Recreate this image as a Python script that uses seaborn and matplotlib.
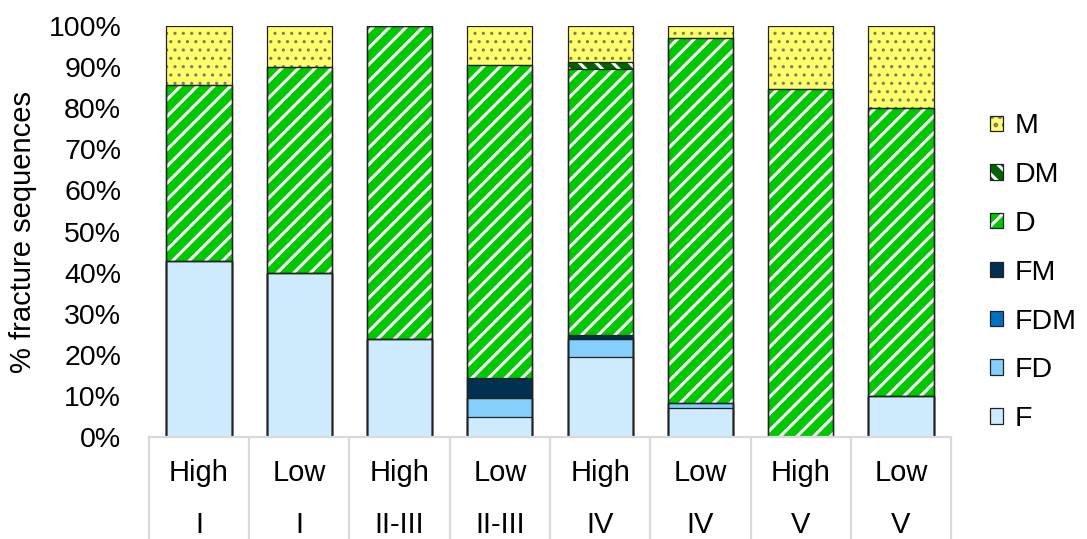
import numpy as np
import matplotlib
matplotlib.use("Agg")
import matplotlib.pyplot as plt
from matplotlib.patches import Patch
from matplotlib.legend_handler import HandlerTuple
import seaborn as sns

# Fracture-sequence composition per group (percent of sequences)
levels = ["High", "Low", "High", "Low", "High", "Low", "High", "Low"]
classes = ["I", "I", "II-III", "II-III", "IV", "IV", "V", "V"]

F = [42.9, 40.0, 23.8, 4.8, 19.5, 7.1, 0.0, 10.0]
FD = [0.0, 0.0, 0.0, 4.8, 4.3, 1.1, 0.0, 0.0]
FDM = [0.0, 0.0, 0.0, 0.0, 0.0, 0.0, 0.0, 0.0]
FM = [0.0, 0.0, 0.0, 4.8, 0.9, 0.0, 0.0, 0.0]
D = [42.8, 50.0, 76.2, 76.1, 64.8, 88.8, 84.6, 70.0]
DM = [0.0, 0.0, 0.0, 0.0, 1.7, 0.0, 0.0, 0.0]
M = [14.3, 10.0, 0.0, 9.5, 8.8, 3.0, 15.4, 20.0]

series_names = ["F", "FD", "FDM", "FM", "D", "DM", "M"]
series_values = [F, FD, FDM, FM, D, DM, M]

# (face colour, hatch colour, hatch pattern, hatch line width)
styles = {
    "F": ("#cdebfd", None, None, 1.0),
    "FD": ("#85cffd", None, None, 1.0),
    "FDM": ("#0070c0", None, None, 1.0),
    "FM": ("#003151", None, None, 1.0),
    "D": ("#00c800", "white", "//", 2.2),
    "DM": ("#006400", "white", "\\\\", 2.2),
    "M": ("#ffff66", "#7a7a7a", "..", 1.1),
}

sns.set_style("white")
plt.rcParams["font.family"] = ["Liberation Sans", "DejaVu Sans"]
plt.rcParams["text.color"] = "black"
plt.rcParams["axes.labelcolor"] = "black"
plt.rcParams["xtick.color"] = "black"
plt.rcParams["ytick.color"] = "black"
plt.rcParams["hatch.linewidth"] = 2.2

FS = 20.5
fig = plt.figure(figsize=(10.87, 5.39), dpi=100)
ax = fig.add_axes([0.137, 0.1892, 0.738, 0.7626])

cats = [f"{a}\n{b}" for a, b in zip(levels, classes)]
cum = np.cumsum(np.array(series_values), axis=0)
bar_w = 0.65


def set_hatch_lw(patches, lw):
    for p in patches:
        if hasattr(p, "set_hatch_linewidth"):
            p.set_hatch_linewidth(lw)


# Fill pass: cumulative stacks drawn from the top layer downwards
for name, top in reversed(list(zip(series_names, cum))):
    face, hcol, hatch, hlw = styles[name]
    kw = dict(edgecolor=hcol if hcol else face, linewidth=0)
    if hatch:
        kw["hatch"] = hatch
    n_before = len(ax.patches)
    with plt.rc_context({"hatch.linewidth": hlw}):
        sns.barplot(x=cats, y=top, order=cats, color=face, saturation=1,
                    width=bar_w, errorbar=None, ax=ax, **kw)
    set_hatch_lw(ax.patches[n_before:], hlw)

# Outline pass for every segment boundary
for top in cum:
    sns.barplot(x=cats, y=top, order=cats, color="#222222", fill=False,
                saturation=1, width=bar_w, errorbar=None, linewidth=0.9, ax=ax)

ax.set_xlim(-0.5, len(cats) - 0.5)
ax.set_ylim(0, 100)
ax.set_yticks(np.arange(0, 101, 10))
ax.set_yticklabels([f"{v}%" for v in range(0, 101, 10)], fontsize=FS)
ax.set_xticks(range(len(cats)))
ax.set_xticklabels(cats, fontsize=21, linespacing=2.1)
ax.tick_params(axis="both", length=0)
ax.tick_params(axis="y", pad=20)
ax.tick_params(axis="x", pad=16)
ax.set_xlabel("")
ax.set_ylabel("% fracture sequences", fontsize=21, labelpad=8)

for s in ["top", "right", "left"]:
    ax.spines[s].set_visible(False)
ax.spines["bottom"].set_color("#d9d9d9")
ax.spines["bottom"].set_linewidth(1.6)

# Category separators below the axis
ax.vlines(np.arange(-0.5, len(cats), 1), 0, -0.26,
          transform=ax.get_xaxis_transform(), colors="#d9d9d9",
          linewidth=1.6, clip_on=False)

# Legend (top layer first)
handles = []
for name in reversed(series_names):
    face, hcol, hatch, hlw = styles[name]
    with plt.rc_context({"hatch.linewidth": hlw}):
        fillp = Patch(facecolor=face, edgecolor=hcol if hcol else face,
                      linewidth=0, hatch=hatch)
    if hasattr(fillp, "set_hatch_linewidth"):
        fillp.set_hatch_linewidth(hlw)
    edgep = Patch(facecolor="none", edgecolor="#222222", linewidth=0.9)
    handles.append((fillp, edgep))
leg = fig.legend(handles, list(reversed(series_names)),
                 handler_map={tuple: HandlerTuple(ndivide=1, pad=0)},
                 loc="center left", bbox_to_anchor=(0.911, 0.494),
                 frameon=False, fontsize=FS, handlelength=0.45, handleheight=0.45,
                 handletextpad=0.42, labelspacing=0.8, borderpad=0, borderaxespad=0)

fig.savefig("out.png", dpi=100)
